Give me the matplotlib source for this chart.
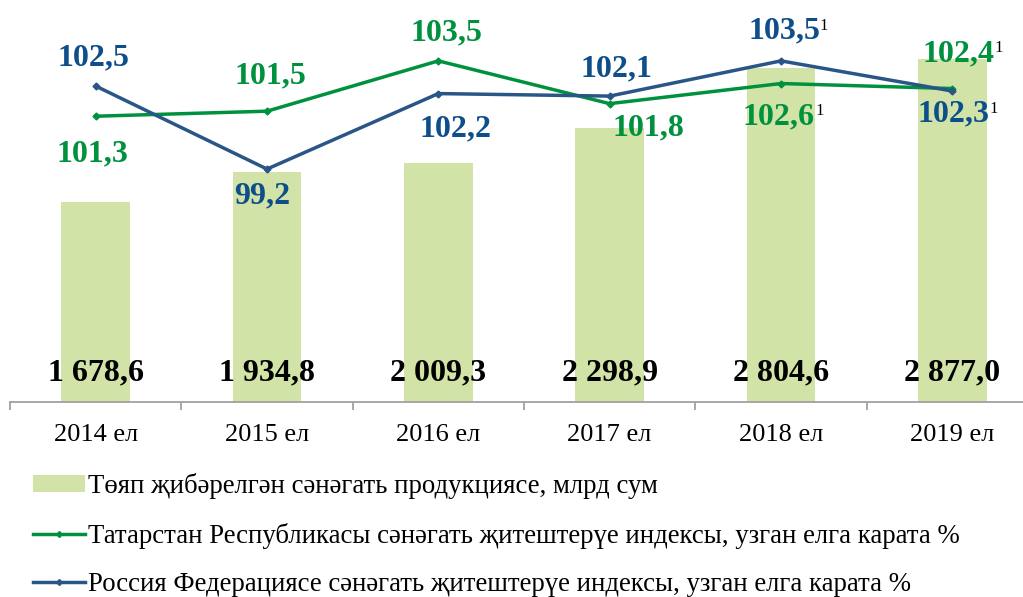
import numpy as np
import matplotlib
matplotlib.use("Agg")
import matplotlib.pyplot as plt
from matplotlib.patches import Patch
from matplotlib.lines import Line2D

plt.rcParams['font.family'] = ['Liberation Serif', 'DejaVu Serif']

# data
years = ['2014 ел', '2015 ел', '2016 ел', '2017 ел', '2018 ел', '2019 ел']
output = [1678.6, 1934.8, 2009.3, 2298.9, 2804.6, 2877.0]
output_labels = ['1 678,6', '1 934,8', '2 009,3', '2 298,9', '2 804,6', '2 877,0']
tatarstan = [101.3, 101.5, 103.5, 101.8, 102.6, 102.4]
russia = [102.5, 99.2, 102.2, 102.1, 103.5, 102.3]
prelim = [False, False, False, False, True, True]   # values marked with "1"

bar_color = '#D2E3A8'
green = '#00913F'
blue_line = '#2A5587'
blue_txt = '#0D4E8B'

fig = plt.figure(figsize=(10.23, 5.97), dpi=100)
ax = fig.add_axes([10 / 1023, 195 / 597, 1028 / 1023, 402 / 597])
x = np.arange(len(years))

ax.bar(x, output, width=0.4, color=bar_color, zorder=1)
ax.set_xlim(-0.5, 5.5)
ax.set_ylim(0, 3375)
for s in ['top', 'left', 'right']:
    ax.spines[s].set_visible(False)
ax.spines['bottom'].set_color('#A0A0A0')
ax.spines['bottom'].set_linewidth(1.3)
ax.set_yticks([])
ax.set_xticks(x)
ax.set_xticklabels(years, fontsize=19)
ax.tick_params(axis='x', which='major', length=0, pad=16)
ax.set_xticks(np.arange(-0.5, 6, 1), minor=True)
ax.tick_params(axis='x', which='minor', length=6, width=1.3, color='#A0A0A0', direction='out')

for xi, lab in zip(x, output_labels):
    ax.annotate(lab, xy=(xi, 0), xytext=(0, 29), textcoords='offset pixels',
                ha='center', va='center', fontsize=23, fontweight='bold', color='black')

ax2 = ax.twinx()
ax2.set_ylim(89.94, 105.92)
ax2.set_yticks([])
for s in ax2.spines.values():
    s.set_visible(False)

ax2.plot(x, tatarstan, color=green, lw=2.5, marker='D', ms=3.5, zorder=3)
ax2.plot(x, russia, color=blue_line, lw=2.5, marker='D', ms=3.5, zorder=4)

# label offsets in pixels (dx, dy)
off_green = [(-3, -38), (3, 35), (8, 28), (39, -24), (-2, -33), (6, 35)]
off_blue = [(-2, 28), (-5, -27), (17, -35), (7, 27), (3, 30), (1, -23)]

def put_labels(vals, offs, col):
    for xi, v, (dx, dy), p in zip(x, vals, offs, prelim):
        t = ax2.annotate(f'{v:.1f}'.replace('.', ','), xy=(xi, v), xytext=(dx, dy),
                         textcoords='offset pixels', ha='center', va='center',
                         fontsize=23, fontweight='bold', color=col)
        if p:
            ax2.annotate('1', xy=(1.0, 0.68), xycoords=t, ha='left', va='center',
                         fontsize=12, color='black')

put_labels(tatarstan, off_green, green)
put_labels(russia, off_blue, blue_txt)

handles = [
    Patch(facecolor=bar_color, edgecolor='none'),
    Line2D([], [], color=green, lw=2.5, marker='D', ms=3),
    Line2D([], [], color=blue_line, lw=2.5, marker='D', ms=3),
]
names = [
    'Төяп җибәрелгән сәнәгать продукциясе, млрд сум',
    'Татарстан Республикасы сәнәгать җитештерүе индексы, узган елга карата %',
    'Россия Федерациясе сәнәгать җитештерүе индексы, узган елга карата %',
]
fig.legend(handles, names, loc='upper left', bbox_to_anchor=(33 / 1023, 1 - 473 / 597),
           frameon=False, fontsize=19.3, handlelength=1.95, handleheight=0.55,
           handletextpad=0.12, labelspacing=0.88, borderpad=0, borderaxespad=0)

fig.savefig('out.png', dpi=100)
